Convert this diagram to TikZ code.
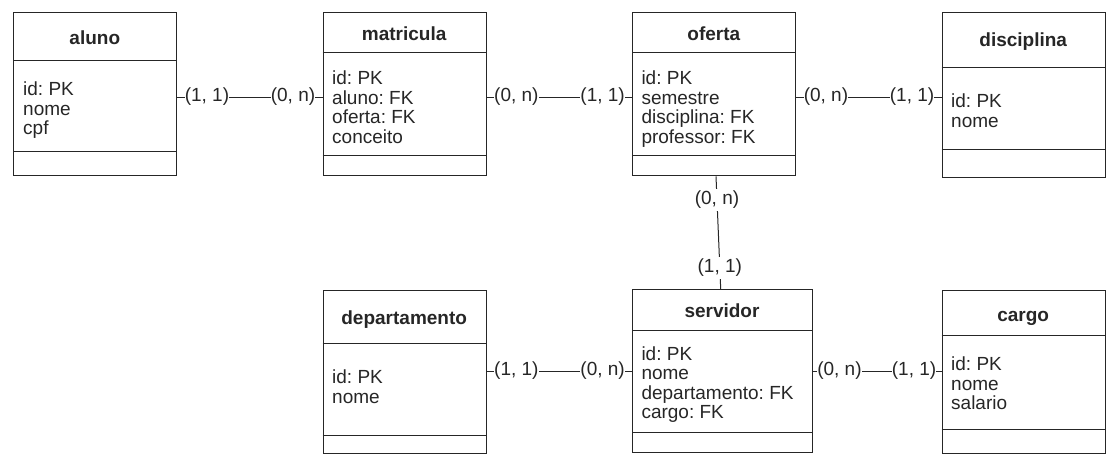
\documentclass[tikz,border=0pt]{standalone}
\usepackage{fontspec}
\setmainfont{Liberation Sans}
\frenchspacing
\begin{document}
\begin{tikzpicture}[x=1pt, y=-1pt, line width=1pt, color=black!85,
	every node/.style={font=\fontsize{19}{19.6}\selectfont},
	classbox/.style={draw, inner sep=0pt, minimum width=163pt, minimum height=163pt, anchor=north west},
	classname/.style={font=\fontsize{19}{19.6}\selectfont\bfseries, anchor=base},
	attrs/.style={align=left, anchor=north west, inner sep=0pt},
	card/.style={fill=white, inner xsep=0pt, inner ysep=2pt}]
	\useasboundingbox (0,0) rectangle (1118,474);
	\node[classbox] (aluno) at (13.3,12.3) {};
	\node[classbox] (matricula) at (322.7,12.3) {};
	\node[classbox] (oferta) at (632.3,12.3) {};
	\node[classbox, minimum height=165pt] (disciplina) at (941.7,12.3) {};
	\node[classbox] (departamento) at (322.7,290) {};
	\node[classbox, minimum width=179.5pt] (servidor) at (632.3,289.3) {};
	\node[classbox] (cargo) at (941.7,290) {};
	\foreach \n/\y in {aluno/60, aluno/151.7, matricula/52.7, matricula/155, oferta/52.7, oferta/155, disciplina/67.3, disciplina/149.3, departamento/343.3, departamento/435, servidor/330, servidor/432.3, cargo/335.7, cargo/429}
		{\draw (\n.west |- 0,\y) -- (\n.east |- 0,\y);}
	\node[classname] (aluno-t) at (94.8,44) {aluno};
	\node[classname] (matricula-t) at (404.2,40) {matricula};
	\node[classname] (oferta-t) at (713.8,40) {oferta};
	\node[classname] (disciplina-t) at (1023.2,46.7) {disciplina};
	\node[classname] (departamento-t) at (404.2,324) {departamento};
	\node[classname] (servidor-t) at (722,317.3) {servidor};
	\node[classname] (cargo-t) at (1023.2,321) {cargo};
	\node[attrs] (aluno-a) at (22.7,81.2) {id: PK\\nome\\cpf};
	\node[attrs] (matricula-a) at (331.7,70.2) {id: PK\\aluno: FK\\oferta: FK\\conceito};
	\node[attrs] (oferta-a) at (641,70.2) {id: PK\\semestre\\disciplina: FK\\professor: FK};
	\node[attrs] (disciplina-a) at (950.7,93.2) {id: PK\\nome};
	\node[attrs] (departamento-a) at (331.7,369.2) {id: PK\\nome};
	\node[attrs] (servidor-a) at (641,345.9) {id: PK\\nome\\departamento: FK\\cargo: FK};
	\node[attrs] (cargo-a) at (950.7,356.5) {id: PK\\nome\\salario};
	% relacionamentos
	\draw (aluno.east |- 0,97) -- (matricula.west |- 0,97) node[card, pos=0, anchor=west, xshift=7pt] {(1, 1)} node[card, pos=1, anchor=east, xshift=-7pt] {(0, n)};
	\draw (matricula.east |- 0,97) -- (oferta.west |- 0,97) node[card, pos=0, anchor=west, xshift=7pt] {(0, n)} node[card, pos=1, anchor=east, xshift=-7pt] {(1, 1)};
	\draw (oferta.east |- 0,97) -- (disciplina.west |- 0,97) node[card, pos=0, anchor=west, xshift=7pt] {(0, n)} node[card, pos=1, anchor=east, xshift=-7pt] {(1, 1)};
	\draw (departamento.east |- 0,371) -- (servidor.west |- 0,371) node[card, pos=0, anchor=west, xshift=7pt] {(1, 1)} node[card, pos=1, anchor=east, xshift=-7pt] {(0, n)};
	\draw (servidor.east |- 0,371) -- (cargo.west |- 0,371) node[card, pos=0, anchor=west, xshift=4pt] {(0, n)} node[card, pos=1, anchor=east, xshift=-5pt] {(1, 1)};
	\draw (oferta.south -| 716,0) -- (servidor.north -| 720.7,0) node[card, pos=0.21] {(0, n)} node[card, pos=0.81] {(1, 1)};
\end{tikzpicture}
\end{document}
